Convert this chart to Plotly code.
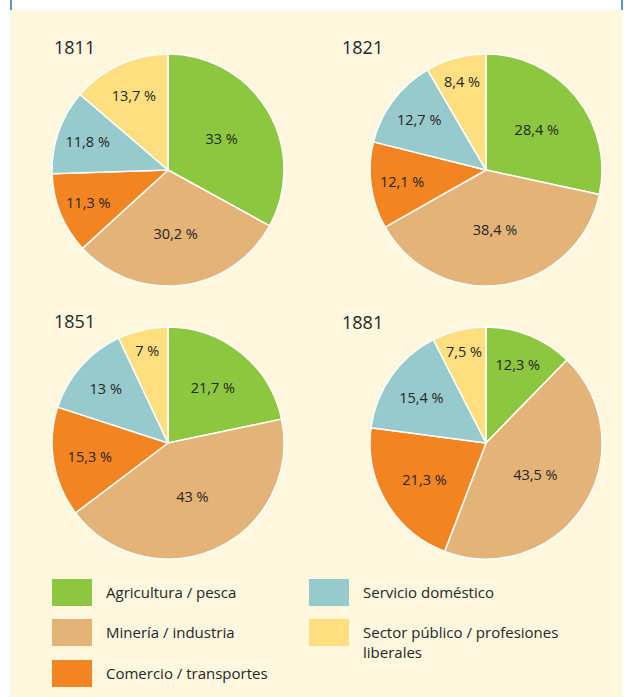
import plotly.graph_objects as go

# Employment share by sector, four census years
years = ["1811", "1821", "1851", "1881"]
sectors = [
    "Agricultura / pesca",
    "Minería / industria",
    "Comercio / transportes",
    "Servicio doméstico",
    "Sector público / profesiones<br>liberales",
]
share_1811 = [33, 30.2, 11.3, 11.8, 13.7]
share_1821 = [28.4, 38.4, 12.1, 12.7, 8.4]
share_1851 = [21.7, 43, 15.3, 13, 7]
share_1881 = [12.3, 43.5, 21.3, 15.4, 7.5]
shares = [share_1811, share_1821, share_1851, share_1881]

colors = ["#8DC63F", "#E3B377", "#F38422", "#96CACC", "#FFDF80"]
cream = "#FFF7DE"
ink = "#262626"

W, H = 624, 697
R = 116
centers = [(168, 170), (486, 170), (168, 443), (486, 443)]
title_pos = [(52, 47), (340, 47), (52, 321), (340, 322)]


def fmt(v):
    s = f"{v:g}".replace(".", ",")
    return f"{s} %"


fig = go.Figure()
for vals, (cx, cy) in zip(shares, centers):
    fig.add_trace(go.Pie(
        values=vals,
        labels=[s.replace("<br>", " ") for s in sectors],
        text=[fmt(v) for v in vals],
        textinfo="text",
        textposition="inside",
        insidetextorientation="horizontal",
        textfont=dict(family="Open Sans", size=14.5, color=ink),
        sort=False,
        direction="clockwise",
        rotation=0,
        marker=dict(colors=colors, line=dict(color="white", width=1.5)),
        domain=dict(x=[(cx - R) / W, (cx + R) / W],
                    y=[1 - (cy + R) / H, 1 - (cy - R) / H]),
        hoverinfo="skip",
        showlegend=False,
    ))

shapes = [
    # cream panel and top border ticks
    dict(type="rect", xref="paper", yref="paper", x0=10 / W, x1=622 / W,
         y0=0, y1=1 - 10 / H, fillcolor=cream, line=dict(width=0), layer="below"),
    dict(type="line", xref="paper", yref="paper", x0=11 / W, x1=11 / W,
         y0=1 - 10 / H, y1=1, line=dict(color="#5E9BB6", width=2)),
    dict(type="line", xref="paper", yref="paper", x0=622 / W, x1=622 / W,
         y0=1 - 10 / H, y1=1, line=dict(color="#5E9BB6", width=2)),
]
annotations = []
for yr, (tx, ty) in zip(years, title_pos):
    annotations.append(dict(text=yr, xref="paper", yref="paper", x=tx / W, y=1 - ty / H,
                            xanchor="left", yanchor="middle", showarrow=False,
                            font=dict(family="Open Sans", size=18, color=ink)))

# legend: two columns of swatches with labels
legend_slots = [(52, 579), (52, 619), (52, 660), (309, 579), (309, 619)]
for name, col, (sx, sy) in zip(sectors, colors, legend_slots):
    shapes.append(dict(type="rect", xref="paper", yref="paper",
                       x0=sx / W, x1=(sx + 40) / W,
                       y0=1 - (sy + 27) / H, y1=1 - sy / H,
                       fillcolor=col, line=dict(width=0)))
    annotations.append(dict(text=name, xref="paper", yref="paper",
                            x=(sx + 52) / W, y=1 - (sy + 1) / H,
                            xanchor="left", yanchor="top", align="left",
                            showarrow=False,
                            font=dict(family="Open Sans", size=15, color=ink)))

fig.update_layout(
    width=W, height=H,
    margin=dict(l=0, r=0, t=0, b=0),
    paper_bgcolor="white",
    plot_bgcolor="white",
    shapes=shapes,
    annotations=annotations,
)

fig.write_html("out.html")
